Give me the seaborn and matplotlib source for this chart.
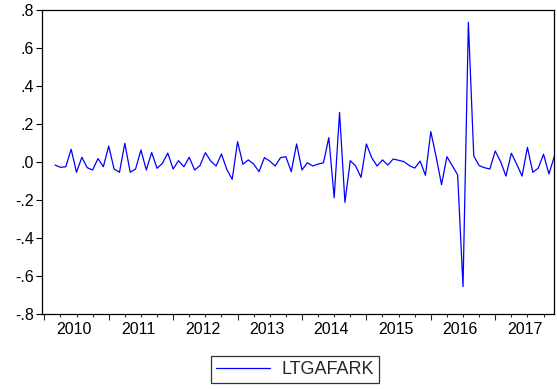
import numpy as np
import pandas as pd
import matplotlib
matplotlib.use("Agg")
import matplotlib.pyplot as plt
import seaborn as sns
from matplotlib.lines import Line2D

# ---- data ----
start_month = "2010-03"
end_month = "2017-12"
ltgafark = [
    -0.016, -0.028, -0.025, 0.067, -0.054, 0.025, -0.030, -0.042, 0.018, -0.025,
    0.084, -0.037, -0.054, 0.098, -0.054, -0.037, 0.063, -0.042, 0.050, -0.033,
    -0.007, 0.047, -0.037, 0.007, -0.025, 0.025, -0.042, -0.019, 0.049, 0.005,
    -0.021, 0.042, -0.039, -0.091, 0.107, -0.012, 0.011, -0.011, -0.051, 0.023,
    0.005, -0.021, 0.023, 0.028, -0.051, 0.095, -0.042, -0.004, -0.021, -0.011,
    -0.004, 0.128, -0.188, 0.261, -0.212, 0.007, -0.021, -0.081, 0.095, 0.022,
    -0.021, 0.011, -0.016, 0.016, 0.009, 0.002, -0.019, -0.032, 0.005, -0.070,
    0.160, 0.026, -0.119, 0.028, -0.019, -0.068, -0.656, 0.735, 0.032, -0.019,
    -0.030, -0.037, 0.058, 0.002, -0.074, 0.046, -0.011, -0.074, 0.077, -0.054,
    -0.033, 0.041, -0.063, 0.028,
]
years = [2010, 2011, 2012, 2013, 2014, 2015, 2016, 2017]
ytick_vals = [0.8, 0.6, 0.4, 0.2, 0.0, -0.2, -0.4, -0.6, -0.8]
ytick_labels = [".8", ".6", ".4", ".2", ".0", "-.2", "-.4", "-.6", "-.8"]
series_name = "LTGAFARK"

dates = pd.period_range(start_month, end_month, freq="M")
base_year = years[0]
xpos = (dates.year - base_year) * 12 + (dates.month - 1)
df = pd.DataFrame({"t": xpos, "v": ltgafark})

sns.set_style("white")
plt.rcParams["font.family"] = ["Liberation Sans", "DejaVu Sans"]

fig = plt.figure(figsize=(5.57, 3.89), dpi=100)
ax = fig.add_axes([42 / 557, 1 - 314 / 389, (554 - 42) / 557, (314 - 10) / 389])

sns.lineplot(data=df, x="t", y="v", ax=ax, color="#0000ff", linewidth=0.9,
             legend=False)

ax.set_xlim(-0.43, 94.95)
ax.set_ylim(-0.8, 0.8)
ax.set_xlabel("")
ax.set_ylabel("")

for s in ax.spines.values():
    s.set_color("black")
    s.set_linewidth(0.9)
    s.set_visible(True)

# y ticks
ax.set_yticks(ytick_vals)
ax.set_yticklabels(ytick_labels)
ax.tick_params(axis="y", direction="out", length=4, width=0.8, pad=2,
               labelsize=11.5, colors="black", left=True)

# x labels centred in each year
ax.set_xticks([(y - base_year) * 12 + 5.5 for y in years])
ax.set_xticklabels([str(y) for y in years])
ax.tick_params(axis="x", which="major", length=0, pad=5.5, labelsize=11.5,
               colors="black")
quarters = [(y - base_year) * 12 + q for y in years for q in (3, 6, 9)]
ax.set_xticks(quarters, minor=True)
ax.tick_params(axis="x", which="minor", direction="out", length=2.2,
               width=0.8, bottom=True)

# year boundary ticks (longer)
sec = ax.secondary_xaxis("bottom")
sec.set_xticks([(y - base_year) * 12 for y in years])
sec.set_xticklabels([])
sec.tick_params(axis="x", direction="out", length=4.5, width=0.8)
sec.spines["bottom"].set_visible(False)

h = [Line2D([0], [0], color="#0000ff", linewidth=0.9)]
leg = fig.legend(h, [series_name], loc="center",
                 bbox_to_anchor=(295 / 557, 1 - 369.5 / 389),
                 frameon=True, fancybox=False, fontsize=13, handlelength=3.0,
                 borderpad=0.3, handletextpad=0.6)
leg.get_frame().set_edgecolor("black")
leg.get_frame().set_linewidth(0.9)

fig.savefig("out.png", dpi=100)
